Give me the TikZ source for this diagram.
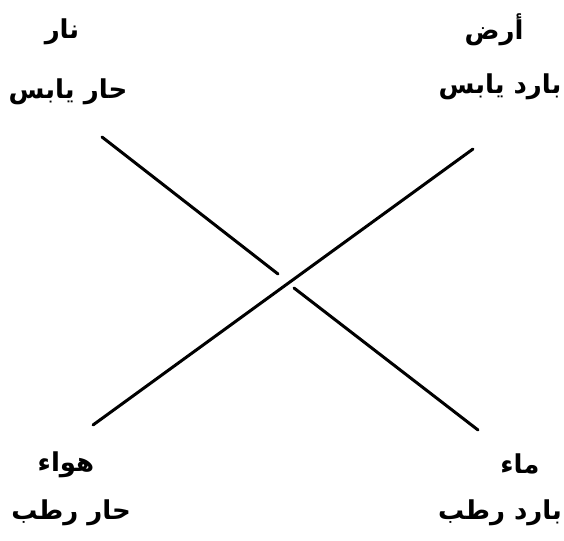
\documentclass[tikz,border=0pt]{standalone}
\usepackage{fontspec}
\TeXXeTstate=1
\newfontfamily\arabicfont[Script=Arabic]{DejaVu Sans}
\tikzset{
  lbl/.style={font=\arabicfont\bfseries\fontsize{26}{30}\selectfont, inner sep=0pt, anchor=center},
  stroke/.style={line width=3pt, line cap=round, black}
}
\begin{document}
\begin{tikzpicture}[x=1pt,y=-1pt]
\useasboundingbox[fill=white] (0,0) rectangle (564,540);
\node[lbl] (nar) at (62,32) {\beginR نار\endR};
\node[lbl] (narq) at (68,92) {\beginR حار يابس\endR};
\node[lbl] (ard) at (494,30) {\beginR أرض\endR};
\node[lbl] (ardq) at (500,87) {\beginR بارد يابس\endR};
\node[lbl] (hawa) at (66,465) {\beginR هواء\endR};
\node[lbl] (hawaq) at (71,513) {\beginR حار رطب\endR};
\node[lbl] (ma) at (520,464) {\beginR ماء\endR};
\node[lbl] (maq) at (500,513) {\beginR بارد رطب\endR};
\coordinate (a1) at (102,137);
\coordinate (a2) at (278,274);
\coordinate (a3) at (294,288);
\coordinate (a4) at (478,430);
\coordinate (b1) at (473,149);
\coordinate (b2) at (93,425);
\draw[stroke] (a1) -- (a2);
\draw[stroke] (a3) -- (a4);
\draw[stroke] (b1) -- (b2);
\end{tikzpicture}
\end{document}
